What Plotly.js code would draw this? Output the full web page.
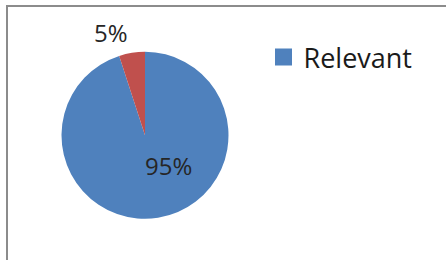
<!DOCTYPE html>
<html>
<head>
<meta charset="utf-8">
<script src="https://cdn.plot.ly/plotly-3.0.1.min.js"></script>
<style>
  html, body { margin: 0; padding: 0; background: #fff; overflow: hidden; width: 446px; height: 260px; }
  #frame { position: absolute; left: 6px; top: 5px; width: 460px; height: 270px; border: 2px solid #8c8c8c; background: #fff; }
  #chart { position: absolute; left: 0; top: 0; }
</style>
</head>
<body>
<div id="frame"><div id="chart"></div></div>
<script>
const categories = ['Relevant', 'Irrelevant'];
const values = [95, 5];
const sliceColors = ['#4F81BD', '#C0504D'];
const legendShown = ['Relevant'];

const W = 438, H = 253;
// label anchor points (inner pixel positions) per slice – styling only
const labelPx = [[160.5, 159], [103, 25.5]];

const total = values.reduce(function (a, b) { return a + b; }, 0);
const annotations = values.map(function (v, i) {
  return {
    text: Math.round(v / total * 100) + '%',
    xref: 'paper', yref: 'paper',
    x: labelPx[i][0] / W, y: (H - labelPx[i][1]) / H,
    xanchor: 'center', yanchor: 'middle',
    showarrow: false,
    font: { family: 'Open Sans, sans-serif', size: 24, color: '#262626' }
  };
});

const trace = {
  type: 'pie',
  labels: categories,
  values: values,
  sort: false,
  direction: 'clockwise',
  rotation: 0,
  marker: { colors: sliceColors, line: { width: 0 } },
  textinfo: 'none',
  hoverinfo: 'none',
  domain: { x: [53.5 / W, 220.5 / W], y: [41.2 / H, 208.2 / H] }
};
const layout = {
  width: W, height: H,
  margin: { l: 0, r: 0, t: 0, b: 0 },
  paper_bgcolor: 'rgba(0,0,0,0)',
  showlegend: true,
  annotations: annotations,
  legend: {
    x: 255.5 / W, xanchor: 'left', y: (H - 26) / H, yanchor: 'top',
    font: { family: 'Open Sans, sans-serif', size: 27, color: '#1a1a1a' },
    bgcolor: 'rgba(0,0,0,0)', borderwidth: 0
  }
};
const gd = document.getElementById('chart');
Plotly.newPlot(gd, [trace], layout, { staticPlot: true, displayModeBar: false }).then(function () {
  gd.querySelectorAll('.legend .traces').forEach(function (t) {
    const txt = t.querySelector('.legendtext');
    if (txt && legendShown.indexOf(txt.textContent) < 0) t.remove();
  });
  gd.querySelectorAll('.legend path.legendpie').forEach(function (p) {
    p.setAttribute('d', 'M8.5,8.5H-8.5V-8.5H8.5Z');
  });
});
</script>
</body>
</html>
